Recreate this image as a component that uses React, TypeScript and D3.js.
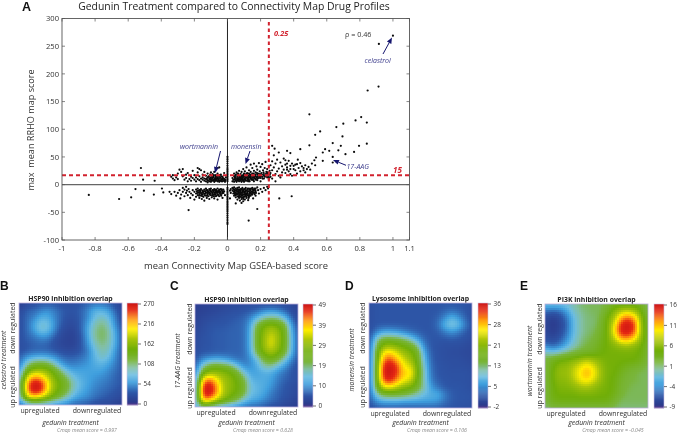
import React, { useMemo } from "react";
import * as d3 from "d3";

const xTicks = [-1, -0.8, -0.6, -0.4, -0.2, 0, 0.2, 0.4, 0.6, 0.8, 1, 1.1];
const yTicks = [300, 250, 200, 150, 100, 50, 0, -50, -100];
const xThreshold = 0.25;
const yThresholdDrawn = 17;

const pointsFar: number[][] = [
  [1, 269], [0.915, 254], [0.847, 170], [0.913, 177], [0.7, 110], [0.774, 116], [0.808, 122], [0.842, 112],
  [0.695, 87], [0.685, 70], [0.713, 55], [0.765, 59], [0.795, 70], [0.842, 74], [0.495, 127], [0.658, 104],
  [0.53, 90], [0.56, 96], [0.636, 75], [0.495, 71], [0.44, 64], [0.59, 64], [0.615, 61], [0.576, 58],
  [0.636, 40], [0.636, 50], [0.535, 49], [0.576, 43], [0.66, 41], [0.67, 62], [0.525, 44], [0.53, 35],
  [0.51, 38], [0.49, 32], [0.5, 27], [0.47, 35], [0.46, 30], [0.47, 22], [0.42, 20], [0.39, 16],
];
const pointsMid: number[][] = [
  [0.27, 70], [0.285, 65], [0.28, 53], [0.31, 58], [0.36, 61], [0.38, 57], [0.425, 45], [0.27, 42], [0.29, 38], [0.3, 45],
  [0.32, 40], [0.33, 33], [0.34, 47], [0.35, 36], [0.36, 31], [0.37, 43], [0.38, 28], [0.39, 38], [0.4, 34], [0.41, 26],
  [0.42, 37], [0.43, 30], [0.44, 24], [0.45, 33], [0.35, 44], [0.36, 38], [0.34, 27], [0.33, 22], [0.31, 29], [0.3, 24],
  [0.29, 19], [0.28, 31], [0.27, 26], [0.26, 35], [0.26, 21], [0.26, 14], [0.27, 11], [0.29, 6], [0.31, 16], [0.32, 13],
  [0.35, 21], [0.37, 24], [0.38, 19], [0.4, 28], [0.41, 36], [0.44, 39], [0.46, 26], [0.48, 28], [0.36, 27], [0.38, 34],
];
const pointsUpperLeft: number[][] = [
  [-0.523, 30], [-0.51, 9], [-0.44, 7], [-0.34, 14], [-0.33, 11], [-0.33, 17], [-0.32, 8], [-0.31, 13], [-0.3, 20], [-0.3, 10],
  [-0.29, 27], [-0.28, 23], [-0.27, 15], [-0.27, 28], [-0.26, 9], [-0.25, 12], [-0.25, 18], [-0.24, 6], [-0.24, 21], [-0.23, 10],
  [-0.22, 14], [-0.22, 7], [-0.21, 25], [-0.21, 12], [-0.2, 9], [-0.2, 17], [-0.19, 6], [-0.19, 13], [-0.18, 30], [-0.18, 22],
  [-0.18, 10], [-0.17, 28], [-0.17, 8], [-0.17, 15], [-0.16, 11], [-0.16, 26], [-0.16, 5], [-0.15, 18], [-0.15, 9], [-0.15, 13],
  [-0.14, 23], [-0.14, 7], [-0.14, 11], [-0.13, 16], [-0.13, 6], [-0.13, 10], [-0.12, 20], [-0.12, 13], [-0.12, 8], [-0.12, 4],
  [-0.115, 15], [-0.11, 11], [-0.11, 6], [-0.105, 18], [-0.1, 9], [-0.1, 13], [-0.1, 22], [-0.1, 5], [-0.095, 16], [-0.09, 7],
  [-0.09, 11], [-0.09, 19], [-0.085, 14], [-0.08, 9], [-0.08, 5], [-0.08, 23], [-0.075, 12], [-0.07, 17], [-0.07, 7], [-0.07, 10],
  [-0.065, 14], [-0.06, 6], [-0.06, 20], [-0.06, 11], [-0.055, 9], [-0.05, 15], [-0.05, 5], [-0.05, 31], [-0.045, 12], [-0.04, 8],
  [-0.04, 18], [-0.035, 10], [-0.03, 14], [-0.03, 6], [-0.025, 11], [-0.02, 8], [-0.02, 21], [-0.015, 5], [-0.01, 13], [-0.06, 30],
];
const pointsUpperDense: number[][] = [
  [-0.125, 11], [-0.118, 7], [-0.112, 14], [-0.108, 9], [-0.102, 12], [-0.098, 7], [-0.094, 10], [-0.088, 13], [-0.084, 8], [-0.082, 17],
  [-0.078, 6], [-0.076, 10], [-0.072, 14], [-0.068, 8], [-0.064, 11], [-0.058, 13], [-0.056, 7], [-0.052, 10], [-0.048, 17], [-0.046, 7],
  [-0.042, 13], [-0.038, 6], [-0.036, 15], [-0.032, 9], [-0.028, 12], [-0.024, 7], [-0.018, 10], [-0.012, 8],
  [0.04, 9], [0.045, 13], [0.048, 16], [0.052, 10], [0.058, 7], [0.062, 12], [0.064, 17], [0.068, 10], [0.072, 14], [0.074, 9],
  [0.078, 7], [0.082, 11], [0.084, 15], [0.088, 9], [0.092, 13], [0.096, 18], [0.098, 7], [0.102, 11], [0.104, 15], [0.108, 9],
  [0.112, 13], [0.114, 20], [0.118, 7], [0.122, 12], [0.124, 16], [0.128, 10], [0.132, 15], [0.134, 6], [0.138, 13], [0.142, 18],
  [0.144, 9], [0.148, 12], [0.152, 16], [0.156, 8], [0.158, 20], [0.162, 11], [0.164, 15], [0.168, 18], [0.172, 9], [0.176, 13],
  [0.178, 21], [0.182, 11], [0.188, 16], [0.192, 14], [0.196, 19], [0.202, 15], [0.208, 18], [0.212, 11], [0.218, 22], [0.226, 14],
  [0.232, 19], [0.238, 16], [0.244, 22], [0.248, 14], [0.256, 18], [0.252, 12],
];
const pointsUpperRight: number[][] = [
  [0.03, 6], [0.03, 12], [0.035, 9], [0.04, 5], [0.04, 15], [0.04, 20], [0.045, 10], [0.05, 7], [0.05, 13], [0.05, 18],
  [0.055, 5], [0.055, 22], [0.06, 10], [0.06, 15], [0.065, 8], [0.065, 20], [0.07, 12], [0.07, 6], [0.07, 25], [0.075, 16],
  [0.08, 9], [0.08, 13], [0.08, 19], [0.085, 5], [0.085, 23], [0.09, 11], [0.09, 7], [0.09, 16], [0.095, 28], [0.1, 14],
  [0.1, 9], [0.1, 20], [0.1, 5], [0.105, 24], [0.11, 12], [0.11, 17], [0.11, 7], [0.115, 31], [0.12, 10], [0.12, 15],
  [0.12, 21], [0.125, 6], [0.13, 26], [0.13, 13], [0.13, 8], [0.135, 18], [0.14, 11], [0.14, 23], [0.14, 36], [0.145, 16],
  [0.15, 9], [0.15, 20], [0.15, 30], [0.155, 13], [0.16, 25], [0.16, 6], [0.16, 38], [0.165, 17], [0.17, 11], [0.17, 22],
  [0.175, 33], [0.18, 14], [0.18, 27], [0.18, 8], [0.185, 20], [0.19, 39], [0.19, 12], [0.195, 24], [0.2, 17], [0.2, 32],
  [0.2, 6], [0.205, 21], [0.21, 14], [0.21, 37], [0.215, 26], [0.22, 11], [0.22, 19], [0.225, 30], [0.23, 16], [0.23, 41],
  [0.235, 23], [0.24, 13], [0.24, 28], [0.245, 18], [0.25, 34], [0.25, 9], [0.255, 25], [0.24, 20], [0.22, 16], [0.2, 12],
  [0.18, 18], [0.16, 13], [0.14, 15], [0.12, 18], [0.1, 17], [0.08, 16], [0.06, 19], [0.09, 13], [0.13, 20], [0.17, 15],
];
const pointsLowerLeft: number[][] = [
  [-0.838, -18.6], [-0.655, -26], [-0.582, -23], [-0.556, -8], [-0.505, -11], [-0.445, -18], [-0.396, -7], [-0.388, -14], [-0.34, -17], [-0.35, -13],
  [-0.235, -46], [-0.32, -13], [-0.31, -20], [-0.3, -15], [-0.29, -10], [-0.28, -18], [-0.285, -25], [-0.27, -6], [-0.27, -13], [-0.26, -9],
  [-0.26, -21], [-0.25, -15], [-0.25, -4], [-0.245, -11], [-0.24, -19], [-0.235, -8], [-0.23, -13], [-0.225, -24], [-0.22, -16], [-0.21, -10],
  [-0.21, -19], [-0.2, -13], [-0.2, -27], [-0.19, -9], [-0.19, -16], [-0.19, -22], [-0.185, -12], [-0.18, -19], [-0.18, -7], [-0.175, -14],
  [-0.17, -10], [-0.17, -24], [-0.17, -17], [-0.165, -12], [-0.16, -20], [-0.16, -8], [-0.16, -15], [-0.155, -26], [-0.15, -11], [-0.15, -18],
  [-0.15, -13], [-0.145, -22], [-0.14, -9], [-0.14, -16], [-0.14, -29], [-0.135, -12], [-0.13, -20], [-0.13, -7], [-0.13, -14], [-0.125, -24],
  [-0.12, -10], [-0.12, -17], [-0.12, -13], [-0.115, -21], [-0.11, -8], [-0.11, -15], [-0.11, -26], [-0.105, -11], [-0.1, -19], [-0.1, -13],
  [-0.1, -7], [-0.095, -23], [-0.09, -10], [-0.09, -16], [-0.09, -20], [-0.085, -13], [-0.08, -8], [-0.08, -25], [-0.08, -18], [-0.075, -11],
  [-0.07, -15], [-0.07, -21], [-0.07, -9], [-0.065, -13], [-0.06, -18], [-0.06, -7], [-0.06, -27], [-0.055, -11], [-0.05, -15], [-0.05, -21],
  [-0.05, -9], [-0.045, -13], [-0.04, -18], [-0.04, -8], [-0.035, -11], [-0.03, -14], [-0.03, -24], [-0.025, -9], [-0.02, -12], [-0.015, -19],
];
const pointsLowerDense: number[][] = [
  [-0.182, -15], [-0.178, -11], [-0.172, -20], [-0.168, -14], [-0.162, -10], [-0.158, -17], [-0.152, -21], [-0.148, -15], [-0.142, -12], [-0.138, -19],
  [-0.132, -16], [-0.128, -10], [-0.122, -20], [-0.118, -15], [-0.114, -12], [-0.108, -18], [-0.104, -9], [-0.102, -16], [-0.098, -12], [-0.092, -14],
  [-0.088, -18], [-0.086, -10], [-0.082, -21], [-0.078, -15], [-0.074, -18], [-0.072, -12], [-0.068, -10], [-0.066, -20], [-0.062, -15], [-0.058, -12],
  [-0.054, -19], [-0.052, -13], [-0.048, -11], [-0.044, -17], [-0.042, -14], [-0.038, -20], [-0.034, -9], [-0.032, -16], [-0.028, -12], [-0.024, -15],
  [0.038, -12], [0.042, -9], [0.044, -15], [0.048, -19], [0.052, -11], [0.054, -16], [0.058, -9], [0.062, -17], [0.064, -12], [0.066, -22],
  [0.068, -14], [0.072, -9], [0.074, -17], [0.076, -21], [0.078, -11], [0.082, -15], [0.084, -19], [0.086, -8], [0.088, -23], [0.092, -13],
  [0.094, -18], [0.096, -26], [0.098, -10], [0.102, -15], [0.104, -21], [0.106, -8], [0.108, -13], [0.112, -18], [0.114, -22], [0.116, -11],
  [0.118, -16], [0.122, -7], [0.124, -12], [0.126, -20], [0.128, -24], [0.132, -9], [0.134, -15], [0.136, -19], [0.138, -11], [0.142, -7],
  [0.144, -13], [0.146, -17], [0.152, -9], [0.154, -15], [0.158, -11], [0.162, -7], [0.164, -17], [0.168, -10], [0.172, -15],
];
const pointsLowerRight: number[][] = [
  [0.03, -6], [0.03, -11], [0.035, -16], [0.035, -8], [0.04, -13], [0.04, -20], [0.04, -5], [0.045, -10], [0.045, -17], [0.05, -7],
  [0.05, -14], [0.05, -23], [0.05, -34], [0.055, -11], [0.055, -18], [0.06, -6], [0.06, -13], [0.06, -21], [0.06, -27], [0.065, -9],
  [0.065, -16], [0.07, -11], [0.07, -24], [0.07, -19], [0.07, -5], [0.075, -14], [0.075, -29], [0.08, -8], [0.08, -17], [0.08, -22],
  [0.08, -12], [0.085, -26], [0.085, -33], [0.09, -6], [0.09, -15], [0.09, -20], [0.09, -10], [0.095, -24], [0.095, -30], [0.1, -8],
  [0.1, -13], [0.1, -18], [0.1, -22], [0.105, -27], [0.11, -6], [0.11, -11], [0.11, -16], [0.11, -20], [0.115, -24], [0.12, -9],
  [0.12, -14], [0.12, -19], [0.125, -28], [0.13, -7], [0.13, -12], [0.13, -17], [0.13, -22], [0.14, -9], [0.14, -15], [0.14, -20],
  [0.15, -6], [0.15, -12], [0.15, -18], [0.155, -25], [0.16, -9], [0.16, -14], [0.17, -7], [0.17, -12], [0.17, -20], [0.18, -5],
  [0.18, -44], [0.128, -65], [0.313, -25], [0.388, -21], [0.185, -10], [0.19, -16], [0.2, -8], [0.21, -13], [0.22, -6], [0.23, -10],
  [0.24, -4], [0.245, -7], [0.02, -8], [0.02, -15], [0.015, -11], [0.015, -25],
];
const pointsOnAxis: number[][] = [
  [0, 50], [0, 46], [0, 42], [0, 38], [0, 34], [0, 30], [0, 27], [0, 24], [0, 21], [0, 18], [0, 15], [0, 12], [0, 9], [0, 6],
  [0, -6], [0, -9], [0, -12], [0, -15], [0, -18], [0, -21], [0, -24], [0, -27], [0, -30], [0, -33], [0, -36], [0, -39], [0, -42],
  [0, -45], [0, -48], [0, -52], [0, -56], [0, -60], [0, -64], [0, -68], [0, -71],
];

// Heat panels: readings as percent of each colour bar's range, top row first
const heatB = [
  [5, 8, 10, 12, 12, 12, 10, 10, 10, 12, 14, 16, 16, 14, 10, 5],
  [8, 14, 15, 18, 22, 18, 14, 12, 12, 14, 20, 28, 28, 24, 14, 8],
  [10, 15, 18, 26, 26, 20, 14, 10, 10, 14, 20, 30, 34, 30, 18, 8],
  [10, 15, 24, 32, 32, 22, 13, 9, 9, 14, 24, 35, 40, 34, 20, 10],
  [10, 15, 22, 32, 30, 20, 10, 7, 7, 14, 26, 38, 42, 38, 24, 12],
  [10, 14, 16, 20, 20, 13, 8, 6, 6, 12, 24, 38, 42, 38, 26, 12],
  [10, 12, 14, 15, 14, 10, 7, 6, 6, 12, 22, 34, 40, 36, 26, 12],
  [10, 12, 14, 14, 14, 12, 10, 8, 9, 12, 18, 30, 36, 34, 22, 12],
  [14, 22, 26, 28, 26, 22, 16, 14, 14, 16, 20, 28, 34, 30, 20, 12],
  [16, 36, 46, 48, 46, 36, 24, 18, 18, 20, 22, 26, 28, 24, 18, 12],
  [22, 52, 62, 64, 60, 52, 40, 28, 24, 24, 24, 24, 24, 20, 16, 12],
  [28, 72, 86, 82, 70, 58, 50, 40, 30, 26, 24, 22, 20, 18, 14, 12],
  [34, 84, 100, 98, 78, 62, 54, 46, 34, 28, 24, 20, 18, 16, 14, 12],
  [32, 84, 100, 96, 76, 60, 52, 44, 32, 26, 22, 18, 16, 14, 12, 10],
  [30, 70, 78, 72, 62, 52, 44, 34, 26, 22, 20, 16, 14, 12, 10, 8],
  [14, 24, 28, 28, 26, 22, 20, 18, 14, 14, 12, 10, 8, 8, 6, 4],
];
const heatC = [
  [5, 5, 6, 6, 7, 8, 8, 9, 10, 10, 10, 10, 10, 9, 8, 6],
  [5, 6, 7, 8, 9, 10, 11, 12, 13, 16, 22, 24, 22, 16, 10, 7],
  [6, 8, 9, 10, 11, 12, 13, 14, 20, 30, 38, 42, 40, 32, 16, 8],
  [7, 9, 11, 12, 12, 13, 14, 15, 24, 46, 56, 60, 56, 48, 24, 10],
  [8, 10, 12, 13, 13, 14, 14, 15, 26, 50, 60, 68, 62, 52, 28, 12],
  [9, 11, 12, 13, 13, 14, 14, 15, 26, 50, 62, 72, 64, 52, 30, 12],
  [9, 11, 12, 13, 13, 14, 14, 15, 26, 50, 62, 72, 62, 52, 30, 12],
  [10, 12, 12, 13, 13, 14, 14, 15, 24, 46, 58, 64, 58, 48, 28, 12],
  [12, 20, 24, 26, 24, 20, 16, 16, 20, 30, 46, 52, 46, 34, 20, 11],
  [14, 36, 48, 50, 48, 44, 32, 20, 20, 26, 36, 38, 30, 22, 14, 10],
  [18, 54, 62, 62, 60, 56, 50, 34, 24, 24, 26, 26, 20, 16, 12, 10],
  [22, 80, 90, 76, 64, 60, 54, 46, 28, 26, 26, 24, 18, 14, 12, 10],
  [24, 96, 100, 86, 66, 60, 56, 48, 32, 28, 26, 22, 16, 12, 10, 8],
  [26, 96, 100, 84, 66, 58, 54, 46, 30, 28, 24, 18, 14, 12, 10, 8],
  [28, 84, 82, 68, 58, 52, 44, 32, 26, 24, 20, 16, 14, 10, 8, 6],
  [24, 36, 30, 26, 24, 20, 18, 16, 14, 14, 12, 10, 8, 6, 5, 4],
];
const heatD = [
  [10, 12, 12, 12, 12, 12, 12, 12, 12, 12, 12, 12, 12, 12, 12, 10],
  [10, 12, 12, 12, 12, 12, 12, 12, 12, 12, 12, 14, 16, 14, 12, 10],
  [10, 12, 12, 12, 12, 12, 12, 12, 12, 12, 14, 20, 28, 22, 14, 10],
  [10, 12, 12, 12, 12, 12, 12, 12, 12, 12, 16, 28, 34, 30, 18, 11],
  [10, 18, 24, 24, 22, 18, 15, 13, 12, 12, 13, 18, 22, 18, 13, 10],
  [11, 36, 46, 46, 44, 40, 32, 22, 14, 12, 12, 12, 13, 12, 11, 9],
  [13, 44, 60, 62, 58, 54, 50, 38, 18, 12, 11, 10, 10, 10, 9, 8],
  [14, 50, 76, 78, 70, 62, 58, 50, 24, 13, 11, 10, 9, 9, 8, 8],
  [14, 52, 86, 92, 80, 70, 62, 52, 28, 14, 11, 10, 10, 10, 9, 8],
  [14, 54, 96, 100, 92, 74, 72, 54, 32, 15, 12, 11, 10, 10, 10, 9],
  [14, 54, 98, 100, 92, 78, 78, 56, 34, 16, 12, 11, 11, 11, 11, 10],
  [14, 54, 92, 96, 84, 74, 70, 52, 34, 18, 13, 12, 11, 11, 11, 10],
  [13, 50, 72, 74, 66, 60, 56, 48, 36, 22, 16, 12, 12, 12, 11, 10],
  [13, 36, 46, 48, 48, 46, 42, 36, 30, 26, 26, 18, 13, 12, 12, 11],
  [12, 22, 26, 26, 26, 24, 24, 24, 24, 24, 22, 16, 13, 12, 12, 11],
  [10, 12, 13, 13, 13, 13, 13, 13, 13, 13, 13, 12, 12, 11, 10, 10],
];
const heatE = [
  [30, 30, 30, 32, 36, 40, 42, 42, 42, 44, 50, 52, 52, 52, 48, 40],
  [14, 12, 14, 22, 32, 38, 40, 42, 42, 50, 60, 68, 72, 66, 56, 42],
  [8, 4, 8, 16, 28, 36, 40, 40, 44, 56, 64, 84, 92, 84, 60, 46],
  [6, 3, 6, 14, 28, 36, 40, 40, 46, 56, 72, 96, 100, 94, 62, 46],
  [8, 4, 8, 16, 28, 36, 40, 42, 48, 56, 74, 96, 98, 90, 62, 48],
  [10, 8, 12, 20, 30, 38, 42, 44, 50, 56, 66, 82, 84, 76, 60, 48],
  [18, 14, 18, 26, 34, 40, 44, 46, 52, 56, 58, 62, 64, 60, 56, 46],
  [36, 32, 36, 40, 44, 46, 48, 50, 54, 56, 56, 56, 56, 56, 54, 46],
  [44, 50, 54, 56, 58, 62, 66, 62, 58, 56, 56, 56, 56, 56, 52, 44],
  [44, 54, 60, 60, 66, 72, 78, 72, 62, 56, 56, 54, 50, 48, 46, 42],
  [44, 56, 62, 62, 68, 76, 82, 76, 64, 56, 56, 50, 46, 44, 42, 42],
  [44, 56, 60, 60, 66, 74, 78, 72, 62, 56, 54, 48, 44, 44, 42, 42],
  [44, 54, 58, 58, 60, 64, 66, 62, 58, 56, 54, 46, 44, 42, 42, 42],
  [44, 54, 56, 56, 56, 58, 58, 58, 56, 56, 52, 46, 42, 42, 42, 42],
  [44, 52, 54, 54, 54, 54, 54, 54, 54, 54, 48, 42, 42, 42, 42, 42],
  [40, 44, 44, 44, 44, 44, 44, 44, 44, 44, 42, 40, 40, 40, 40, 40],
];

const barTicksB = [270, 216, 162, 108, 54, 0];
const barTicksC = [49, 39, 29, 19, 10, 0];
const barTicksD = [36, 28, 21, 13, 5, -2];
const barTicksE = [16, 11, 6, 1, -4, -9];

const colorStops = [0, 3, 12, 23, 30, 37, 44, 55, 65, 75, 84, 93, 100];
const colorValues = ["#5e3a8c", "#2c3a8c", "#2d55a6", "#3f9fde", "#6cbde2", "#82bfa4", "#79b53a", "#70ae08", "#a8c40a", "#ffee00", "#ff9c10", "#e62a12", "#cc1414"];
const colorOf = d3.scaleLinear<string>().domain(colorStops).range(colorValues).interpolate(d3.interpolateRgb).clamp(true);

const panels = [
  { letter: "B", lx: 0, x0: 19, y0: 303, x1: 122, y1: 405, bx0: 127, bx1: 138, title: "HSP90 inhibition overlap", drug: "celastrol treatment", dx: 13, upx: 4, score: "Cmap mean score = 0.997", heat: heatB, ticks: barTicksB },
  { letter: "C", lx: 170, x0: 195, y0: 304, x1: 298, y1: 407, bx0: 303, bx1: 313, title: "HSP90 inhibition overlap", drug: "17-AAG treatment", dx: 15, upx: 3, score: "Cmap mean score = 0.628", heat: heatC, ticks: barTicksC },
  { letter: "D", lx: 345, x0: 369, y0: 303, x1: 472, y1: 408, bx0: 478, bx1: 488, title: "Lysosome inhibition overlap", drug: "monensin treatment", dx: 15, upx: 4, score: "Cmap mean score = 0.106", heat: heatD, ticks: barTicksD },
  { letter: "E", lx: 520, x0: 545, y0: 304, x1: 648, y1: 408, bx0: 654, bx1: 664, title: "PI3K inhibition overlap", drug: "wortmannin treatment", dx: 13, upx: 3, score: "Cmap mean score = -0.045", heat: heatE, ticks: barTicksE },
];

const FONT = "'Open Sans', 'Noto Sans', sans-serif";
const ARIAL = "'Liberation Sans', sans-serif";
const NAVY = "#15156e";
const LABEL_BLUE = "#3a3a8a";
const RED = "#d2222e";

const CELL = 2;

function smoothGrid(grid: number[][], w: number, h: number) {
  const nc = Math.ceil(w / CELL);
  const nr = Math.ceil(h / CELL);
  const sx = d3.scaleLinear().domain([0, nc - 1]).range([0, grid[0].length - 1]);
  const sy = d3.scaleLinear().domain([0, nr - 1]).range([0, grid.length - 1]);
  const data = new Float64Array(nc * nr);
  for (let r = 0; r < nr; r++) {
    const fy = sy(r);
    const y0 = Math.min(Math.floor(fy), grid.length - 2);
    const ty = fy - y0;
    for (let c = 0; c < nc; c++) {
      const fx = sx(c);
      const x0 = Math.min(Math.floor(fx), grid[0].length - 2);
      const tx = fx - x0;
      data[r * nc + c] =
        grid[y0][x0] * (1 - tx) * (1 - ty) + grid[y0][x0 + 1] * tx * (1 - ty) +
        grid[y0 + 1][x0] * (1 - tx) * ty + grid[y0 + 1][x0 + 1] * tx * ty;
    }
  }
  d3.blur2({ data, width: nc, height: nr }, 0.7);
  return { data, nc, nr };
}

function HeatPanel({ p }: { p: (typeof panels)[number] }) {
  const w = p.x1 - p.x0;
  const h = p.y1 - p.y0;
  const { data, nc, nr } = useMemo(() => smoothGrid(p.heat, w, h), [p]);
  const barY = d3.scaleLinear().domain([100, 0]).range([p.y0, p.y1]);
  const tickY = d3.scaleLinear().domain([0, p.ticks.length - 1]).range([p.y0 + 1, p.y1 - 1]);
  const barSteps = d3.range(0, 100, 1);
  const cx = (p.x0 + p.x1) / 2;
  const cells: React.ReactNode[] = [];
  for (let r = 0; r < nr; r++) {
    for (let c = 0; c < nc; c++) {
      cells.push(
        <rect key={r * nc + c} x={p.x0 + c * CELL} y={p.y0 + r * CELL} width={CELL + 0.3} height={CELL + 0.3}
          fill={colorOf(data[r * nc + c])} />
      );
    }
  }
  const clipId = `clip-${p.letter}`;
  return (
    <g>
      <text x={p.lx} y={290} fontFamily={ARIAL} fontWeight="bold" fontSize={12} fill="#111">{p.letter}</text>
      <text x={cx} y={p.y0 - 2} textAnchor="middle" fontFamily={FONT} fontWeight="bold" fontSize={6.9} fill="#222">{p.title}</text>
      <clipPath id={clipId}><rect x={p.x0} y={p.y0} width={w} height={h} /></clipPath>
      <g clipPath={`url(#${clipId})`}>{cells}</g>
      <rect x={p.x0} y={p.y0} width={w} height={h} fill="none" stroke="#bcaedb" strokeWidth={0.8} />
      {barSteps.map((t) => (
        <rect key={t} x={p.bx0} y={barY(t + 1)} width={p.bx1 - p.bx0} height={barY(t) - barY(t + 1) + 0.3} fill={colorOf(t + 0.5)} />
      ))}
      <rect x={p.bx0} y={p.y0} width={p.bx1 - p.bx0} height={h} fill="none" stroke="#cfc4e4" strokeWidth={0.6} />
      {p.ticks.map((t, i) => (
        <g key={t}>
          <line x1={p.bx1} x2={p.bx1 + 3} y1={tickY(i)} y2={tickY(i)} stroke="#333" strokeWidth={0.7} />
          <text x={p.bx1 + 5.5} y={tickY(i) + 2.3} fontFamily={FONT} fontSize={6.4} fill="#333">{t}</text>
        </g>
      ))}
      <text transform={`translate(${p.x0 - p.upx},${p.y0 + 25}) rotate(-90)`} textAnchor="middle" fontFamily={FONT} fontSize={7} fill="#333">down regulated</text>
      <text transform={`translate(${p.x0 - p.upx},${p.y0 + 84}) rotate(-90)`} textAnchor="middle" fontFamily={FONT} fontSize={7} fill="#333">up regulated</text>
      <text transform={`translate(${p.x0 - p.dx},${p.y0 + 57}) rotate(-90)`} textAnchor="middle" fontFamily={FONT} fontStyle="italic" fontSize={7} fill="#333">{p.drug}</text>
      <text x={p.x0 + 21} y={p.y1 + 8} textAnchor="middle" fontFamily={FONT} fontSize={6.9} fill="#333">upregulated</text>
      <text x={p.x0 + 78} y={p.y1 + 8} textAnchor="middle" fontFamily={FONT} fontSize={6.9} fill="#333">downregulated</text>
      <text x={cx} y={425} textAnchor="middle" fontFamily={FONT} fontStyle="italic" fontSize={6.9} fill="#333">gedunin treatment</text>
      <text x={p.x0 + 68} y={432} textAnchor="middle" fontFamily={FONT} fontStyle="italic" fontSize={5.2} fill="#8a8a8a">{p.score}</text>
    </g>
  );
}

function Arrow({ x1, y1, x2, y2 }: { x1: number; y1: number; x2: number; y2: number }) {
  const a = Math.atan2(y2 - y1, x2 - x1);
  const L = 6;
  const W = 2.5;
  const bx = x2 - L * Math.cos(a);
  const by = y2 - L * Math.sin(a);
  const nx = -Math.sin(a) * W;
  const ny = Math.cos(a) * W;
  return (
    <g>
      <line x1={x1} y1={y1} x2={bx} y2={by} stroke={NAVY} strokeWidth={1} />
      <polygon points={`${x2},${y2} ${bx + nx},${by + ny} ${bx - nx},${by - ny}`} fill={NAVY} />
    </g>
  );
}

export default function App() {
  const x = d3.scaleLinear().domain([-1, 1.1]).range([62, 409.5]);
  const y = d3.scaleLinear().domain([-100, 300]).range([240, 18.5]);
  const points = [...pointsFar, ...pointsMid, ...pointsUpperLeft, ...pointsUpperDense, ...pointsUpperRight, ...pointsLowerLeft, ...pointsLowerDense, ...pointsLowerRight, ...pointsOnAxis];
  return (
    <svg width={679} height={434} viewBox="0 0 679 434"
      style={{ position: "absolute", left: 0, top: 0, background: "#fff", filter: "blur(0.35px)" }}>
      <text x={22} y={10.5} fontFamily={ARIAL} fontWeight="bold" fontSize={12.5} fill="#111">A</text>
      <text x={234} y={10} textAnchor="middle" fontFamily={FONT} fontSize={10.4} fill="#222">Gedunin Treatment compared to Connectivity Map Drug Profiles</text>

      {/* zero lines */}
      <line x1={x(-1)} x2={x(1.1)} y1={y(0)} y2={y(0)} stroke="#666" strokeWidth={1.4} />
      <line x1={x(0)} x2={x(0)} y1={y(300)} y2={y(-100)} stroke="#222" strokeWidth={1} />

      {points.map((d, i) => (
        <circle key={i} cx={x(d[0])} cy={y(d[1])} r={1.1} fill="#0a0a0a" />
      ))}

      {/* thresholds */}
      <line x1={x(xThreshold)} x2={x(xThreshold)} y1={22} y2={y(-100)} stroke={RED} strokeWidth={2} strokeDasharray="3.5 3" />
      <line x1={x(-1)} x2={x(1.1)} y1={y(yThresholdDrawn)} y2={y(yThresholdDrawn)} stroke={RED} strokeWidth={2} strokeDasharray="4 3" />

      {/* axes box and ticks */}
      <rect x={x(-1)} y={y(300)} width={x(1.1) - x(-1)} height={y(-100) - y(300)} fill="none" stroke="#555" strokeWidth={0.9} />
      {xTicks.map((t) => (
        <g key={t}>
          <line x1={x(t)} x2={x(t)} y1={y(-100)} y2={y(-100) - 3} stroke="#555" strokeWidth={0.7} />
          <line x1={x(t)} x2={x(t)} y1={y(300)} y2={y(300) + 3} stroke="#555" strokeWidth={0.7} />
          <text x={x(t)} y={251} textAnchor="middle" fontFamily={FONT} fontSize={7.6} fill="#333">{t}</text>
        </g>
      ))}
      {yTicks.map((t) => (
        <g key={t}>
          <line x1={x(-1)} x2={x(-1) + 3} y1={y(t)} y2={y(t)} stroke="#555" strokeWidth={0.7} />
          <line x1={x(1.1)} x2={x(1.1) - 3} y1={y(t)} y2={y(t)} stroke="#555" strokeWidth={0.7} />
          <text x={59} y={y(t) + 2.7} textAnchor="end" fontFamily={FONT} fontSize={7.6} fill="#333">{t}</text>
        </g>
      ))}
      <text transform="translate(34,130) rotate(-90)" textAnchor="middle" fontFamily={FONT} fontSize={9.1} fill="#333" style={{ whiteSpace: "pre" }}>max  mean RRHO map score</text>
      <text x={236} y={269} textAnchor="middle" fontFamily={FONT} fontSize={9.4} fill="#333">mean Connectivity Map GSEA-based score</text>

      {/* annotations */}
      <text x={274} y={36} fontFamily={FONT} fontStyle="italic" fontWeight="bold" fontSize={7.4} fill={RED}>0.25</text>
      <text x={393} y={172.5} fontFamily={FONT} fontStyle="italic" fontWeight="bold" fontSize={8} fill={RED}>15</text>
      <text x={345} y={37} fontFamily={FONT} fontSize={7.2} fill="#333">ρ = 0.46</text>
      <text x={364.5} y={63} fontFamily={FONT} fontStyle="italic" fontSize={7} fill={LABEL_BLUE}>celastrol</text>
      <text x={346.5} y={169} fontFamily={FONT} fontStyle="italic" fontSize={7} fill={LABEL_BLUE}>17-AAG</text>
      <text x={180} y={149} fontFamily={FONT} fontStyle="italic" fontSize={7} fill={LABEL_BLUE}>wortmannin</text>
      <text x={231} y={149} fontFamily={FONT} fontStyle="italic" fontSize={7} fill={LABEL_BLUE}>monensin</text>
      <Arrow x1={383} y1={54} x2={392} y2={37.5} />
      <Arrow x1={220.5} y1={151} x2={215} y2={173} />
      <Arrow x1={250} y1={151} x2={245.5} y2={164} />
      <Arrow x1={346} y1={165.3} x2={333} y2={160} />

      {panels.map((p) => <HeatPanel key={p.letter} p={p} />)}
    </svg>
  );
}
